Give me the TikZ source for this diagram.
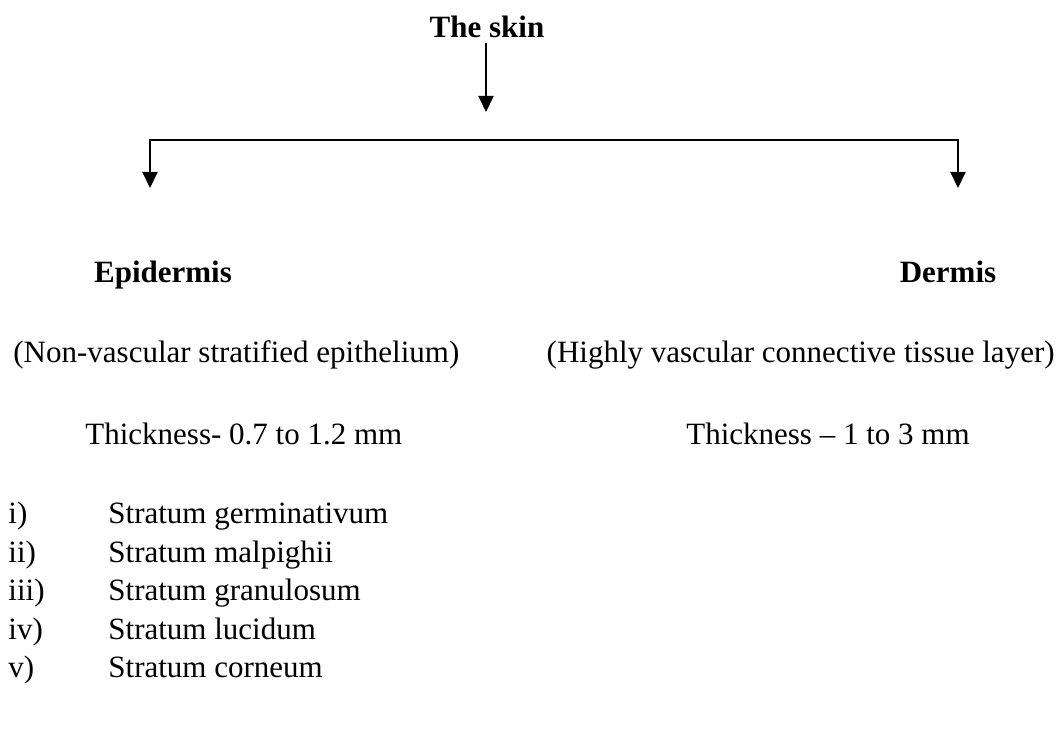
\documentclass[tikz,border=0pt]{standalone}
\usepackage{fontspec}
\setmainfont{Liberation Serif}
\usetikzlibrary{positioning,arrows.meta}

\begin{document}
\begin{tikzpicture}[x=0.5pt,y=-0.5pt,>={Triangle[length=8pt,width=7.5pt]}]
        \tikzset{
            heading/.style={inner sep=0pt, anchor=base, font=\fontsize{15.5}{18}\selectfont\bfseries},
            entry/.style={inner sep=0pt, anchor=base west, font=\fontsize{15.5}{18}\selectfont},
            entryr/.style={entry, anchor=base east},
            link/.style={line width=1pt}
        }
        \useasboundingbox (0,0) rectangle (1062,753);
        \node[heading] (skin) at (487,38) {The skin};
        \coordinate (fork) at (486,112);
        \coordinate (epiTip) at (150,188);
        \coordinate (derTip) at (958,188);
        \coordinate (barR) at (958,140);
        \draw[->,link,shorten <=2pt] (skin.south -| fork) -- (fork);
        \draw[<->,link] (epiTip) |- (barR) -- (derTip);
        % two layers
        \node[heading] (epi) at (163,283) {Epidermis};
        \node[heading] (der) at (948,283) {Dermis};
        \node[entry] (epiKind) at (13,363) {(Non-vascular stratified epithelium)};
        \node[entryr] (derKind) at (1055,363) {(Highly vascular connective tissue layer)};
        \node[entry] (epiThick) at (85,445) {Thickness- 0.7 to 1.2 mm};
        \node[entryr] (derThick) at (970,445) {Thickness -- 1 to 3 mm};
        % strata of the epidermis
        \foreach \num/\layer [count=\k from 0] in {i)/germinativum, ii)/malpighii, iii)/granulosum, iv)/lucidum, v)/corneum} {
            \node[entry] (num\k) at (8,{524+38.5*\k}) {\num};
            \node[entry] (layer\k) at (108,{524+38.5*\k}) {Stratum \layer};
        }
    \end{tikzpicture}
\end{document}
